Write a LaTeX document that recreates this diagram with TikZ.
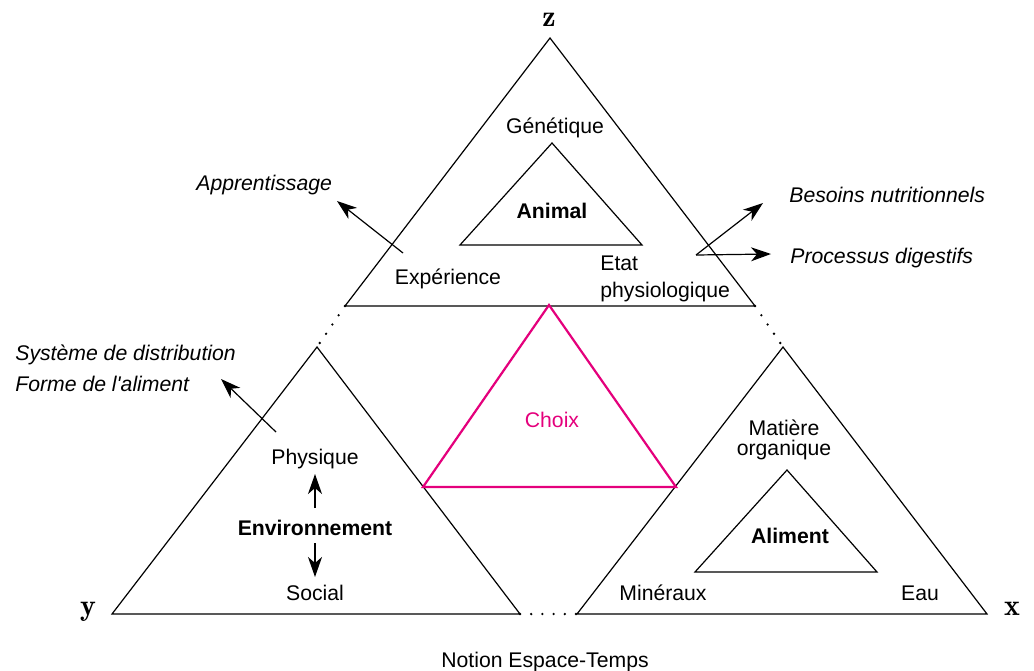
\documentclass[tikz,border=0pt]{standalone}
\usepackage{fontspec}
\setmainfont{Liberation Sans}[Ligatures=TeXOff]
\usetikzlibrary{arrows.meta}
\definecolor{mag}{RGB}{228,0,124}
\begin{document}
\begin{tikzpicture}[x=0.5pt,y=-0.5pt,
  tri/.style={draw=black, line width=0.6pt},
  choixtri/.style={draw=mag, line width=1.1pt},
  dotline/.style={line width=1.3pt, dash pattern=on 0pt off 5.6pt, line cap=round},
  lbl/.style={inner sep=0pt, anchor=base, font=\fontsize{10.6}{12.7}\selectfont},
  bl/.style={lbl, font=\fontsize{10.6}{12.7}\selectfont\bfseries},
  it/.style={lbl, anchor=base west, font=\fontsize{10.6}{12.7}\selectfont\itshape},
  axis/.style={inner sep=0pt, anchor=base, font=\fontfamily{lmr}\fontsize{15}{18}\selectfont\bfseries},
  arr/.style={-{Stealth[length=10pt,width=7pt,inset=3pt]}, line width=0.6pt}
]
\useasboundingbox (0,0) rectangle (1034,670);
% vertices
\coordinate (Z) at (550,38);
\coordinate (T1) at (345,306);
\coordinate (T2) at (755,306);
\coordinate (L0) at (317,347);
\coordinate (Y) at (112,614);
\coordinate (L2) at (520,614);
\coordinate (R0) at (783,347);
\coordinate (R1) at (577,614);
\coordinate (X) at (987,614);
% sub-triangles
\draw[tri] (Z) -- (T1) -- (T2) -- cycle;
\draw[tri] (L0) -- (Y) -- (L2) -- cycle;
\draw[tri] (R0) -- (R1) -- (X) -- cycle;
% dotted gaps
\draw[dotline] (T1) -- (L0);
\draw[dotline] (T2) -- (R0);
\draw[dotline] (L2) -- (R1);
% choice triangle
\coordinate (C0) at (549,305);
\coordinate (C1) at (423,487);
\coordinate (C2) at (676,487);
\draw[choixtri] (C0) -- (C1) -- (C2) -- cycle;
% inner triangles
\coordinate (A0) at (552,143);
\coordinate (A1) at (460,245);
\coordinate (A2) at (642,245);
\draw[tri] (A0) -- (A1) -- (A2) -- cycle;
\coordinate (F0) at (787,470);
\coordinate (F1) at (695,572);
\coordinate (F2) at (877,572);
\draw[tri] (F0) -- (F1) -- (F2) -- cycle;
% axis letters
\node[axis] (lz) at (549,26) {z};
\node[axis] (ly) at (88,615) {y};
\node[axis] (lx) at (1012,615) {x};
% labels top
\node[lbl] (gen) at (555,133) {Génétique};
\node[bl] (animal) at (552,218) {Animal};
\node[lbl] (exp) at (448,284) {Expérience};
\node[lbl, anchor=base west, align=left, font=\fontsize{10.6}{13.5}\selectfont] (etat) at (600,297) {Etat\\physiologique};
\node[it] (appr) at (196,190) {Apprentissage};
\node[it] (bes) at (789,202) {Besoins nutritionnels};
\node[it] (proc) at (790,263) {Processus digestifs};
% labels left
\node[it] (sys) at (15,360) {Système de distribution};
\node[it] (forme) at (15,391) {Forme de l'aliment};
\node[lbl] (phys) at (315,464) {Physique};
\node[bl] (env) at (315,535) {Environnement};
\node[lbl] (soc) at (315,600) {Social};
% middle
\node[lbl, text=mag] (choix) at (552,427) {Choix};
% right
\node[lbl, align=center, font=\fontsize{10.6}{10}\selectfont] (mat) at (784,455) {Matière\\organique};
\node[bl] (alim) at (790,543) {Aliment};
\node[lbl] (min) at (663,600) {Minéraux};
\node[lbl] (eau) at (920,600) {Eau};
\node[lbl] (notion) at (545,667) {Notion Espace-Temps};
% arrows
\coordinate (aA) at (403,253);
\coordinate (aA2) at (337,201);
\draw[arr] (aA) -- (aA2);
\coordinate (aE) at (696,255);
\coordinate (aB) at (763,203);
\coordinate (aP) at (771,254);
\draw[arr] (aE) -- (aB);
\draw[arr] (aE) -- (aP);
\coordinate (aF) at (276,432);
\coordinate (aF2) at (221,379);
\draw[arr] (aF) -- (aF2);
\coordinate (u1) at (315,508);
\coordinate (u2) at (315,474);
\draw[arr] (u1) -- (u2);
\coordinate (d1) at (315,543);
\coordinate (d2) at (315,577);
\draw[arr] (d1) -- (d2);
\end{tikzpicture}
\end{document}
